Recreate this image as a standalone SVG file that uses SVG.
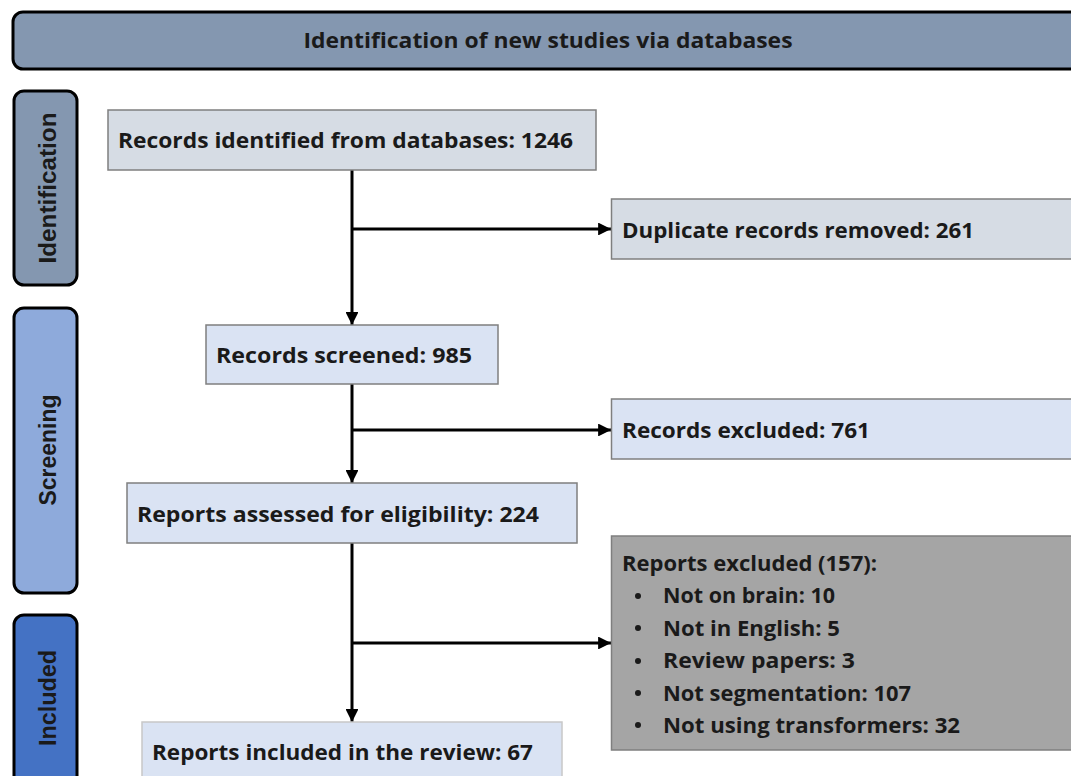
<svg xmlns="http://www.w3.org/2000/svg" width="1071" height="776" viewBox="0 0 1071 776">
<defs>
<marker id="ah" viewBox="0 0 10 10" refX="10" refY="5" markerWidth="4.3" markerHeight="4.3" markerUnits="strokeWidth" orient="auto">
<path d="M0,0 L10,5 L0,10 z" fill="#000"/>
</marker>
<style>
.t{font-family:"Open Sans","Liberation Sans",sans-serif;font-weight:bold;font-size:21px;fill:#1a1a1a}
.side{font-family:"Liberation Sans",Arial,sans-serif;font-weight:bold;font-size:23px;fill:#1a1a1a}
.band{stroke:#000;stroke-width:3}
.box{stroke:#7f7f7f;stroke-width:1.5}
.c{stroke:#000;stroke-width:3;fill:none}
</style>
</defs>
<rect width="1071" height="776" fill="#fff"/>
<g id="header">
<rect class="band" x="13" y="12" width="1080" height="57" rx="10" fill="#8497b0"/>
<text class="t" x="548" y="48" text-anchor="middle" font-size="21" textLength="489" lengthAdjust="spacingAndGlyphs">Identification of new studies via databases</text>
</g>
<g id="side-identification">
<rect class="band" x="14" y="91" width="63" height="194" rx="10" fill="#8497b0"/>
<text class="side" transform="translate(56,188) rotate(-90)" text-anchor="middle" textLength="151" lengthAdjust="spacingAndGlyphs">Identification</text>
</g>
<g id="side-screening">
<rect class="band" x="14" y="308" width="63" height="285" rx="10" fill="#8eaadb"/>
<text class="side" transform="translate(56,450) rotate(-90)" text-anchor="middle" textLength="111" lengthAdjust="spacingAndGlyphs">Screening</text>
</g>
<g id="side-included">
<rect class="band" x="14" y="615" width="63" height="180" rx="10" fill="#4472c4"/>
<text class="side" transform="translate(56,698) rotate(-90)" text-anchor="middle" textLength="96" lengthAdjust="spacingAndGlyphs">Included</text>
</g>
<g id="connectors">
<line class="c" x1="352" y1="170" x2="352" y2="325" marker-end="url(#ah)"/>
<line class="c" x1="352" y1="229" x2="611" y2="229" marker-end="url(#ah)"/>
<line class="c" x1="352" y1="384" x2="352" y2="483" marker-end="url(#ah)"/>
<line class="c" x1="352" y1="430" x2="611" y2="430" marker-end="url(#ah)"/>
<line class="c" x1="352" y1="543" x2="352" y2="722" marker-end="url(#ah)"/>
<line class="c" x1="352" y1="643" x2="611" y2="643" marker-end="url(#ah)"/>
</g>
<g id="n-identified">
<rect class="box" x="108" y="110" width="488" height="60" fill="#d6dce4"/>
<text class="t" x="118" y="148" textLength="455" lengthAdjust="spacingAndGlyphs">Records identified from databases: 1246</text>
</g>
<g id="n-duplicates">
<rect class="box" x="611.5" y="199" width="480" height="60" fill="#d6dce4"/>
<text class="t" x="622" y="238" textLength="352" lengthAdjust="spacingAndGlyphs">Duplicate records removed: 261</text>
</g>
<g id="n-screened">
<rect class="box" x="206" y="325" width="292" height="59" fill="#dae3f3"/>
<text class="t" x="216" y="363" textLength="256" lengthAdjust="spacingAndGlyphs">Records screened: 985</text>
</g>
<g id="n-excluded">
<rect class="box" x="611.5" y="399" width="480" height="60" fill="#dae3f3"/>
<text class="t" x="622" y="438" textLength="248" lengthAdjust="spacingAndGlyphs">Records excluded: 761</text>
</g>
<g id="n-assessed">
<rect class="box" x="127" y="483" width="450" height="60" fill="#dae3f3"/>
<text class="t" x="137" y="522" textLength="402" lengthAdjust="spacingAndGlyphs">Reports assessed for eligibility: 224</text>
</g>
<g id="n-reports-excluded">
<rect class="box" x="611.5" y="536" width="480" height="214" fill="#a5a5a5"/>
<text class="t" x="622" y="571" textLength="255" lengthAdjust="spacingAndGlyphs">Reports excluded (157):</text>
<g fill="#1a1a1a">
<circle cx="638" cy="596" r="3"/>
<circle cx="638" cy="628" r="3"/>
<circle cx="638" cy="661" r="3"/>
<circle cx="638" cy="693" r="3"/>
<circle cx="638" cy="725" r="3"/>
</g>
<text class="t" x="663" y="603" textLength="172" lengthAdjust="spacingAndGlyphs">Not on brain: 10</text>
<text class="t" x="663" y="636" textLength="177" lengthAdjust="spacingAndGlyphs">Not in English: 5</text>
<text class="t" x="663" y="668" textLength="192" lengthAdjust="spacingAndGlyphs">Review papers: 3</text>
<text class="t" x="663" y="701" textLength="248" lengthAdjust="spacingAndGlyphs">Not segmentation: 107</text>
<text class="t" x="663" y="733" textLength="297" lengthAdjust="spacingAndGlyphs">Not using transformers: 32</text>
</g>
<g id="n-included">
<rect x="142" y="722" width="420" height="70" fill="#dae3f3" stroke="#c8c8c8" stroke-width="1.5"/>
<text class="t" x="152" y="760" textLength="381" lengthAdjust="spacingAndGlyphs">Reports included in the review: 67</text>
</g>
</svg>
